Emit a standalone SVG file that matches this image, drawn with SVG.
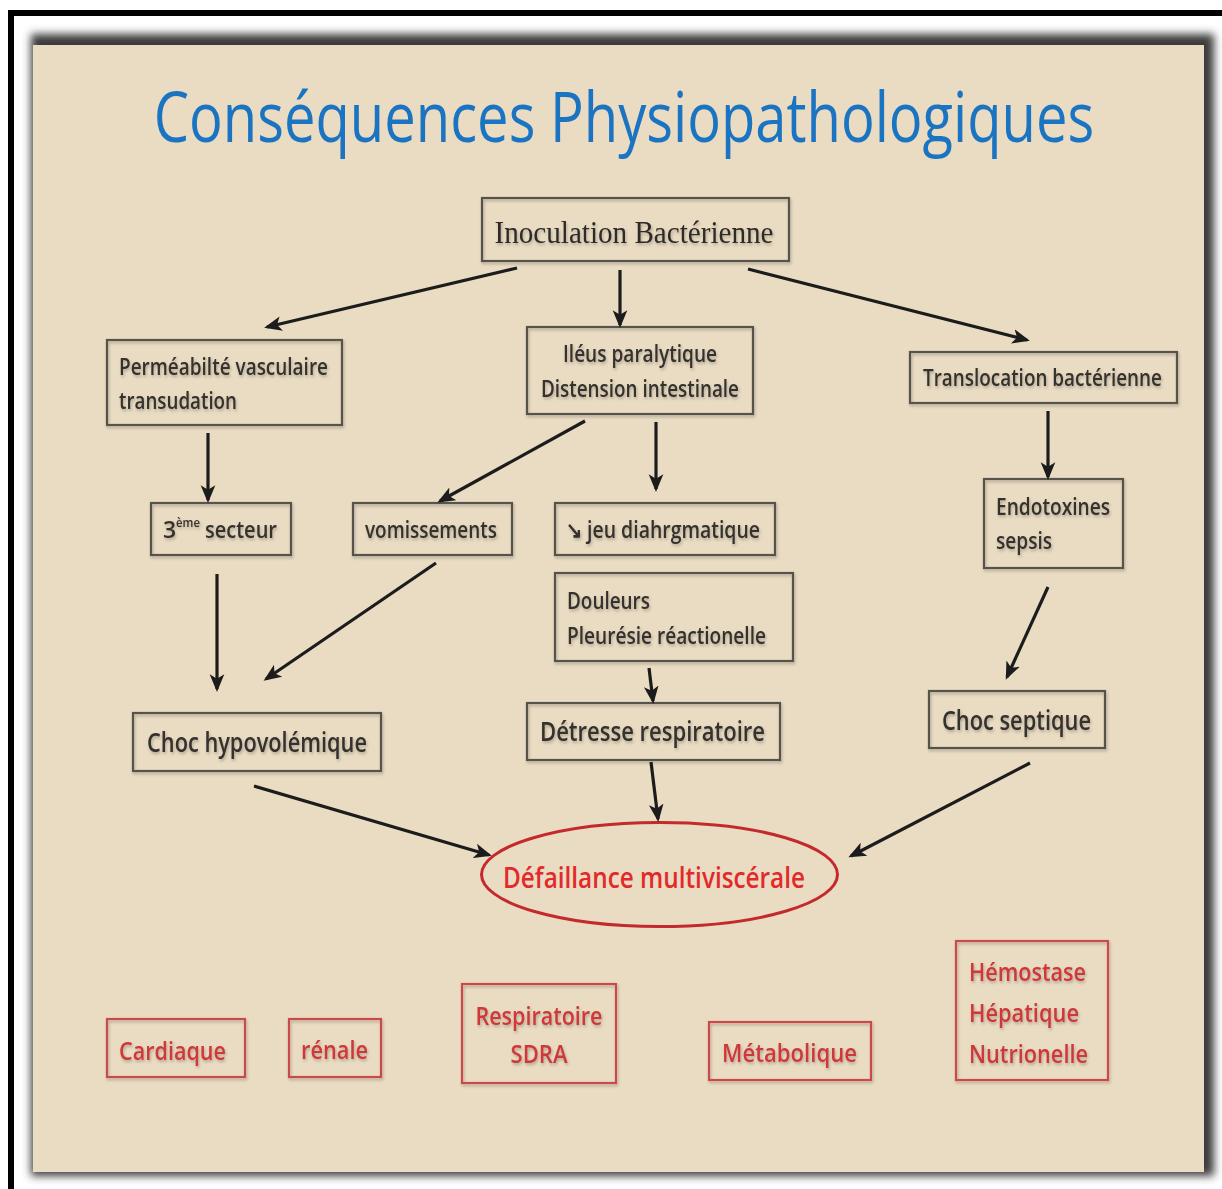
<svg xmlns="http://www.w3.org/2000/svg" width="1222" height="1189" viewBox="0 0 1222 1189">
<style>
.box{fill:none;stroke:#56524c;stroke-width:2.2}
.rbox{fill:none;stroke:#cc4a48;stroke-width:2.2}
.t{font-family:"Open Sans","Noto Sans",sans-serif;font-size:23px;font-weight:600;fill:#35312d}
.sup{font-family:"Open Sans","Noto Sans",sans-serif;font-size:12px;font-weight:600;fill:#35312d}
.tl{font-family:"Open Sans","Noto Sans",sans-serif;font-size:27px;font-weight:600;fill:#35312d}
.tr{font-family:"Open Sans","Noto Sans",sans-serif;font-size:26px;font-weight:600;fill:#cf3838}
.conn line{stroke:#1c1c1c;stroke-width:3.2;marker-end:url(#ah)}
</style>
<defs>
<marker id="ah" viewBox="0 0 12 10" refX="10" refY="5" markerWidth="5.5" markerHeight="5.5" orient="auto" markerUnits="strokeWidth">
<path d="M0,0 L12,5 L0,10 L3,5 z" fill="#1c1c1c"/>
</marker>
<filter id="blur" x="-5%" y="-5%" width="110%" height="110%"><feGaussianBlur stdDeviation="4"/></filter>
<filter id="sh" x="-10%" y="-10%" width="120%" height="130%"><feDropShadow dx="1" dy="2" stdDeviation="1.5" flood-color="#000" flood-opacity="0.25"/></filter>
</defs>
<rect width="1222" height="1189" fill="#fff"/>
<rect x="8" y="10" width="1214" height="6" fill="#000"/>
<rect x="8" y="10" width="6" height="1179" fill="#000"/>
<rect x="31" y="34" width="1183" height="1142" fill="#3a3a3a" filter="url(#blur)"/>
<rect x="33" y="45" width="1171" height="1127" fill="#eadcc3"/>
<g id="title" transform="translate(624,142) scale(0.802,1)">
<text x="0" y="0" text-anchor="middle" font-family="'Open Sans','Noto Sans',sans-serif" font-size="70" fill="#1b74c2">Conséquences Physiopathologiques</text>
</g>

<g id="n-inoculation" filter="url(#sh)">
<rect class="box" x="482" y="198" width="307" height="63"/>
<text x="634" y="243" text-anchor="middle" font-family="'Liberation Serif',serif" font-size="31" fill="#2e2b28" textLength="279" lengthAdjust="spacingAndGlyphs">Inoculation Bactérienne</text>
</g>
<g id="n-permeabilite" filter="url(#sh)">
<rect class="box" x="107" y="340" width="235" height="85"/>
<text class="t" x="119" y="375" textLength="209" lengthAdjust="spacingAndGlyphs">Perméabilté vasculaire</text>
<text class="t" x="119" y="409" textLength="118" lengthAdjust="spacingAndGlyphs">transudation</text>
</g>
<g id="n-ileus" filter="url(#sh)">
<rect class="box" x="527" y="327" width="226" height="87"/>
<text class="t" x="640" y="362" text-anchor="middle" textLength="154" lengthAdjust="spacingAndGlyphs">Iléus paralytique</text>
<text class="t" x="640" y="397" text-anchor="middle" textLength="198" lengthAdjust="spacingAndGlyphs">Distension intestinale</text>
</g>
<g id="n-translocation" filter="url(#sh)">
<rect class="box" x="910" y="352" width="267" height="51"/>
<text class="t" x="923" y="386" textLength="239" lengthAdjust="spacingAndGlyphs">Translocation bactérienne</text>
</g>
<g id="n-secteur" filter="url(#sh)">
<rect class="box" x="151" y="503" width="140" height="52"/>
<text class="t" x="163" y="538">3</text>
<text class="sup" x="176" y="527" textLength="24" lengthAdjust="spacingAndGlyphs">ème</text>
<text class="t" x="205" y="538" textLength="72" lengthAdjust="spacingAndGlyphs">secteur</text>
</g>
<g id="n-vomissements" filter="url(#sh)">
<rect class="box" x="353" y="503" width="159" height="52"/>
<text class="t" x="365" y="538" textLength="132" lengthAdjust="spacingAndGlyphs">vomissements</text>
</g>
<g id="n-jeu" filter="url(#sh)">
<rect class="box" x="555" y="503" width="220" height="52"/>
<text class="t" x="566" y="538" textLength="194" lengthAdjust="spacingAndGlyphs">↘ jeu diahrgmatique</text>
</g>
<g id="n-endotoxines" filter="url(#sh)">
<rect class="box" x="984" y="479" width="139" height="89"/>
<text class="t" x="996" y="515" textLength="114" lengthAdjust="spacingAndGlyphs">Endotoxines</text>
<text class="t" x="996" y="549" textLength="56" lengthAdjust="spacingAndGlyphs">sepsis</text>
</g>
<g id="n-douleurs" filter="url(#sh)">
<rect class="box" x="555" y="573" width="238" height="88"/>
<text class="t" x="567" y="609" textLength="83" lengthAdjust="spacingAndGlyphs">Douleurs</text>
<text class="t" x="567" y="644" textLength="199" lengthAdjust="spacingAndGlyphs">Pleurésie réactionelle</text>
</g>
<g id="n-hypovolemique" filter="url(#sh)">
<rect class="box" x="133" y="713" width="248" height="58"/>
<text class="tl" x="147" y="752" textLength="220" lengthAdjust="spacingAndGlyphs">Choc hypovolémique</text>
</g>
<g id="n-detresse" filter="url(#sh)">
<rect class="box" x="527" y="703" width="253" height="57"/>
<text class="tl" x="540" y="741" textLength="225" lengthAdjust="spacingAndGlyphs">Détresse  respiratoire</text>
</g>
<g id="n-septique" filter="url(#sh)">
<rect class="box" x="929" y="691" width="176" height="57"/>
<text class="tl" x="942" y="730" textLength="149" lengthAdjust="spacingAndGlyphs">Choc septique</text>
</g>
<g id="n-defaillance">
<ellipse cx="659.5" cy="874.5" rx="178" ry="52" fill="none" stroke="#c42a2c" stroke-width="3"/>
<text x="654" y="888" text-anchor="middle" font-family="'Open Sans','Noto Sans',sans-serif" font-size="29" font-weight="600" fill="#e22a2a" textLength="302" lengthAdjust="spacingAndGlyphs">Défaillance multiviscérale</text>
</g>
<g id="n-cardiaque" filter="url(#sh)">
<rect class="rbox" x="107" y="1019" width="138" height="58"/>
<text class="tr" x="119" y="1060" textLength="107" lengthAdjust="spacingAndGlyphs">Cardiaque</text>
</g>
<g id="n-renale" filter="url(#sh)">
<rect class="rbox" x="289" y="1019" width="92" height="58"/>
<text class="tr" x="301" y="1059" textLength="67" lengthAdjust="spacingAndGlyphs">rénale</text>
</g>
<g id="n-respiratoire" filter="url(#sh)">
<rect class="rbox" x="462" y="984" width="154" height="99"/>
<text class="tr" x="539" y="1025" text-anchor="middle" textLength="127" lengthAdjust="spacingAndGlyphs">Respiratoire</text>
<text class="tr" x="539" y="1063" text-anchor="middle" textLength="57" lengthAdjust="spacingAndGlyphs">SDRA</text>
</g>
<g id="n-metabolique" filter="url(#sh)">
<rect class="rbox" x="709" y="1022" width="162" height="58"/>
<text class="tr" x="722" y="1062" textLength="135" lengthAdjust="spacingAndGlyphs">Métabolique</text>
</g>
<g id="n-hemostase" filter="url(#sh)">
<rect class="rbox" x="956" y="941" width="152" height="139"/>
<text class="tr" x="969" y="981" textLength="117" lengthAdjust="spacingAndGlyphs">Hémostase</text>
<text class="tr" x="969" y="1022" textLength="110" lengthAdjust="spacingAndGlyphs">Hépatique</text>
<text class="tr" x="969" y="1063" textLength="119" lengthAdjust="spacingAndGlyphs">Nutrionelle</text>
</g>

<g id="connectors" class="conn">
<line x1="517" y1="268" x2="267" y2="327"/>
<line x1="620" y1="270" x2="620" y2="325"/>
<line x1="748" y1="269" x2="1027" y2="340"/>
<line x1="208" y1="433" x2="208" y2="500"/>
<line x1="585" y1="421" x2="440" y2="501"/>
<line x1="656" y1="422" x2="656" y2="489"/>
<line x1="1048" y1="411" x2="1048" y2="477"/>
<line x1="217" y1="574" x2="217" y2="689"/>
<line x1="436" y1="563" x2="266" y2="679"/>
<line x1="649" y1="668" x2="653" y2="701"/>
<line x1="1048" y1="587" x2="1007" y2="677"/>
<line x1="651" y1="762" x2="658" y2="819"/>
<line x1="254" y1="786" x2="489" y2="855"/>
<line x1="1030" y1="763" x2="851" y2="856"/>
</g>
</svg>
